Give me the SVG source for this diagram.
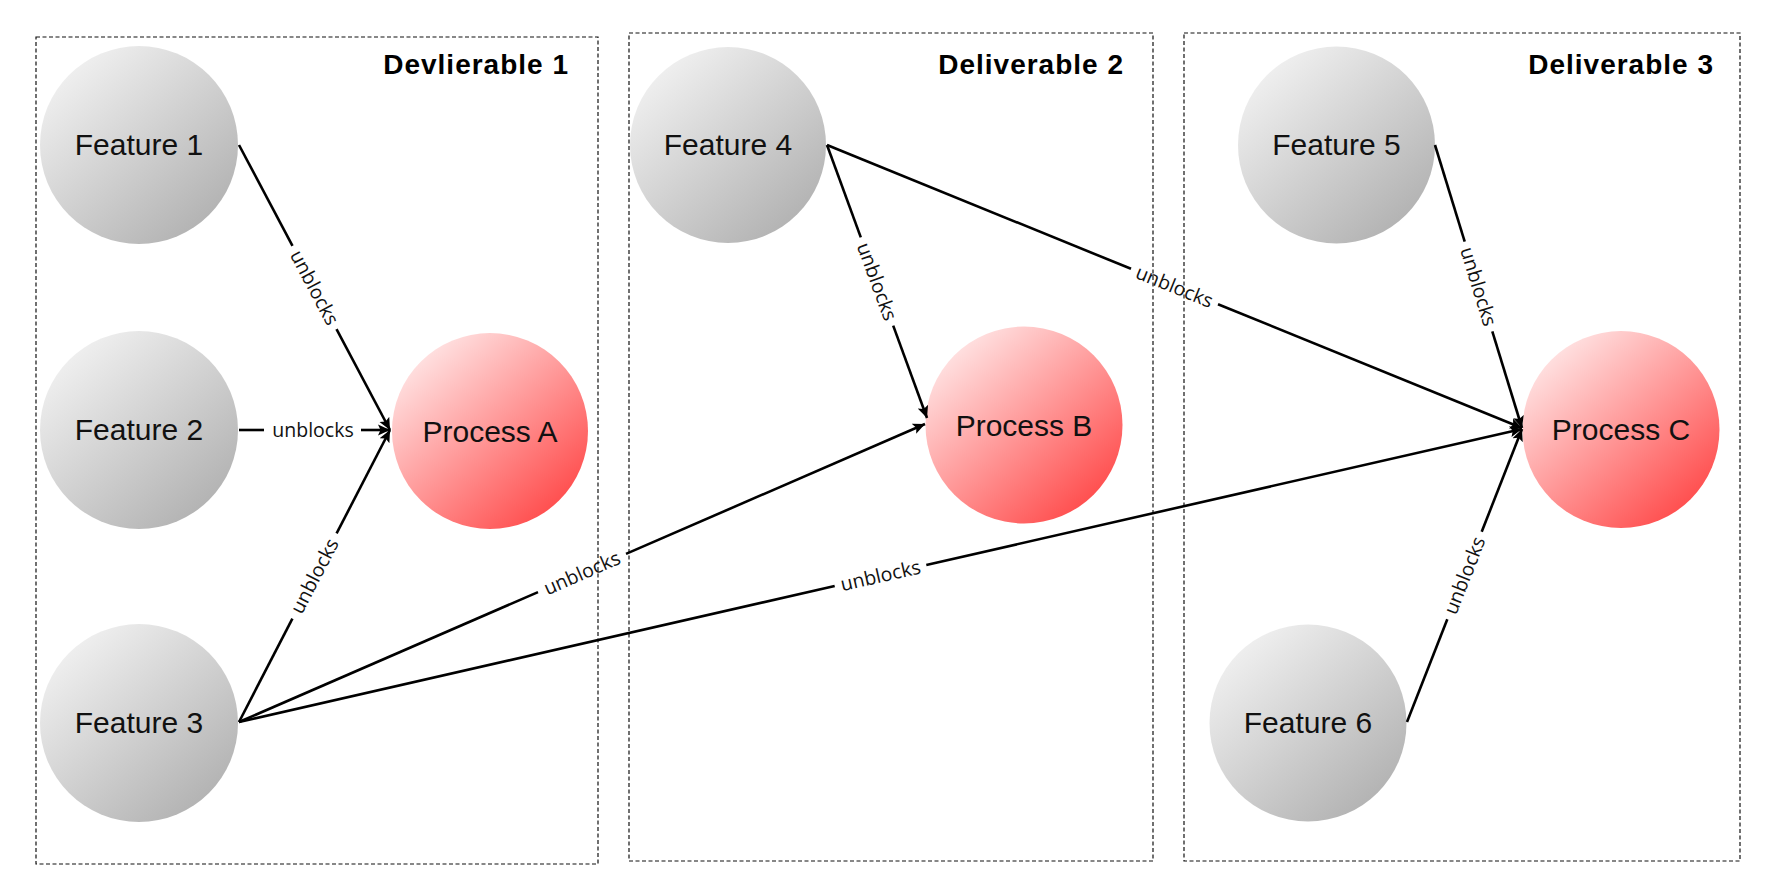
<svg xmlns="http://www.w3.org/2000/svg" width="1765" height="885" viewBox="0 0 1765 885">
<style>
.box{fill:none;stroke:#111;stroke-width:1.2;stroke-dasharray:4 2.5}
.title{font-family:"Liberation Sans",Arial,sans-serif;font-weight:bold;font-size:28px;letter-spacing:1px;fill:#000;text-anchor:end}
.feat{fill:url(#gGray)}
.proc{fill:url(#gRed)}
.nl{font-family:"Liberation Sans",Arial,sans-serif;font-size:30px;fill:#111;text-anchor:middle}
.e{stroke:#000;stroke-width:2.6;fill:none}
.el{font-family:"Open Sans","Liberation Sans",sans-serif;font-size:19.5px;fill:#111;text-anchor:middle}
</style>
<defs>
<linearGradient id="gGray" x1="0.15" y1="0.1" x2="0.85" y2="0.9">
<stop offset="0" stop-color="#f0f0f0"/>
<stop offset="1" stop-color="#b2b2b2"/>
</linearGradient>
<linearGradient id="gRed" x1="0.15" y1="0.1" x2="0.85" y2="0.9">
<stop offset="0" stop-color="#ffe3e3"/>
<stop offset="1" stop-color="#ff4c4c"/>
</linearGradient>
<marker id="arr" markerWidth="13" markerHeight="12" refX="12" refY="6" orient="auto" markerUnits="userSpaceOnUse">
<path d="M0,0.5 L12,6 L0,11.5 L2.5,6 z" fill="#000"/>
</marker>
</defs>
<rect width="1765" height="885" fill="#fff"/>

<g id="deliverable1">
<rect class="box" x="36" y="37" width="562" height="827"/>
<text class="title" x="569" y="74">Devlierable 1</text>
</g>
<g id="deliverable2">
<rect class="box" x="629" y="33" width="524" height="828"/>
<text class="title" x="1124" y="74">Deliverable 2</text>
</g>
<g id="deliverable3">
<rect class="box" x="1184" y="33" width="556" height="828"/>
<text class="title" x="1714" y="74">Deliverable 3</text>
</g>

<g id="feature1"><circle class="feat" cx="139" cy="145" r="99"/><text class="nl" x="139" y="155">Feature 1</text></g>
<g id="feature2"><circle class="feat" cx="139" cy="430" r="99"/><text class="nl" x="139" y="440">Feature 2</text></g>
<g id="feature3"><circle class="feat" cx="139" cy="723" r="99"/><text class="nl" x="139" y="733">Feature 3</text></g>
<g id="processA"><circle class="proc" cx="490" cy="431" r="98"/><text class="nl" x="490" y="442">Process A</text></g>
<g id="feature4"><circle class="feat" cx="728" cy="145" r="98"/><text class="nl" x="728" y="155">Feature 4</text></g>
<g id="processB"><circle class="proc" cx="1024" cy="425" r="98.5"/><text class="nl" x="1024" y="436">Process B</text></g>
<g id="feature5"><circle class="feat" cx="1336.5" cy="145" r="98.5"/><text class="nl" x="1336.5" y="155">Feature 5</text></g>
<g id="processC"><circle class="proc" cx="1621" cy="429.5" r="98.5"/><text class="nl" x="1621" y="440">Process C</text></g>
<g id="feature6"><circle class="feat" cx="1308" cy="723" r="98.5"/><text class="nl" x="1308" y="733">Feature 6</text></g>

<g id="connectors">
<!-- F1 -> A -->
<path class="e" d="M239,145 L292.5,245.9"/>
<path class="e" d="M336.5,329.1 L390,430" marker-end="url(#arr)"/>
<text class="el" transform="translate(314.5,287.5) rotate(62.1)" dy="0.35em">unblocks</text>
<!-- F2 -> A -->
<path class="e" d="M239,430 L264,430"/>
<path class="e" d="M361,430 L390,430" marker-end="url(#arr)"/>
<text class="el" x="313" y="430" dy="0.35em">unblocks</text>
<!-- F3 -> A -->
<path class="e" d="M239,722 L292.4,618.6"/>
<path class="e" d="M336.6,533.4 L390,430" marker-end="url(#arr)"/>
<text class="el" transform="translate(314.5,576) rotate(-62.65)" dy="0.35em">unblocks</text>
<!-- F3 -> B -->
<path class="e" d="M239,722 L538,592.1"/>
<path class="e" d="M626,553.9 L925,424" marker-end="url(#arr)"/>
<text class="el" transform="translate(582,573) rotate(-23.48)" dy="0.35em">unblocks</text>
<!-- F3 -> C -->
<path class="e" d="M239,722 L834.7,586"/>
<path class="e" d="M926.3,565 L1522,429" marker-end="url(#arr)"/>
<text class="el" transform="translate(880.5,575.5) rotate(-12.86)" dy="0.35em">unblocks</text>
<!-- F4 -> B -->
<path class="e" d="M827,145 L860.8,237.4"/>
<path class="e" d="M893.2,325.6 L927,418" marker-end="url(#arr)"/>
<text class="el" transform="translate(877,281.5) rotate(69.88)" dy="0.35em">unblocks</text>
<!-- F4 -> C -->
<path class="e" d="M827,145 L1131,268.8"/>
<path class="e" d="M1218,304.2 L1522,428" marker-end="url(#arr)"/>
<text class="el" transform="translate(1174.5,286.5) rotate(22.16)" dy="0.35em">unblocks</text>
<!-- F5 -> C -->
<path class="e" d="M1435,145 L1464.7,241.6"/>
<path class="e" d="M1492.3,331.4 L1522,428" marker-end="url(#arr)"/>
<text class="el" transform="translate(1478.5,286.5) rotate(72.9)" dy="0.35em">unblocks</text>
<!-- F6 -> C -->
<path class="e" d="M1407,722 L1447.3,619.2"/>
<path class="e" d="M1481.7,531.8 L1522,429" marker-end="url(#arr)"/>
<text class="el" transform="translate(1464.5,575.5) rotate(-68.57)" dy="0.35em">unblocks</text>
</g>
</svg>
